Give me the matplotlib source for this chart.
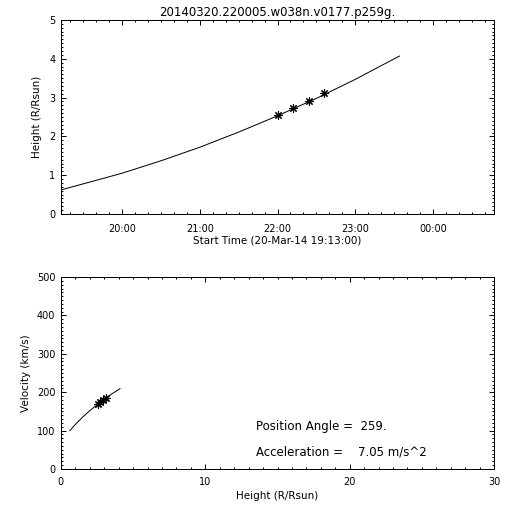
import matplotlib
matplotlib.use("Agg")
import matplotlib.pyplot as plt
from matplotlib.ticker import MultipleLocator, FuncFormatter

# ---- data ----
title = "20140320.220005.w038n.v0177.p259g."
start_label = "Start Time (20-Mar-14 19:13:00)"

# measured points (time HH:MM:SS, height R/Rsun)
obs_times = ["22:00:05", "22:12:00", "22:24:00", "22:36:00"]
obs_heights = [2.55, 2.73, 2.92, 3.12]
obs_velocities = [168, 174, 180, 185]

# fitted height-time curve
fit_times = ["19:13:00", "20:00:00", "20:30:00", "21:00:00", "21:30:00",
             "22:00:00", "22:30:00", "23:00:00", "23:34:00"]
fit_heights = [0.62, 1.05, 1.37, 1.72, 2.11, 2.53, 2.98, 3.47, 4.07]

# fitted velocity-height curve
vfit_heights = [0.62, 1.0, 1.5, 2.0, 2.5, 3.0, 3.5, 4.09]
vfit_velocities = [100, 116, 135, 152, 167, 181, 195, 209]

position_angle = "259."
acceleration = "7.05"

time_range = ["19:13:00", "24:47:00"]


def to_hours(s):
    h, m, sec = (float(p) for p in s.split(":"))
    return h + m / 60.0 + sec / 3600.0


obs_t = [to_hours(s) for s in obs_times]
fit_t = [to_hours(s) for s in fit_times]
tmin, tmax = (to_hours(s) for s in time_range)

plt.rcParams['font.family'] = ['DejaVu Sans']

fig = plt.figure(figsize=(5.12, 5.12), dpi=100)
ax1 = fig.add_axes([0.119, 0.582, 0.846, 0.379])
ax2 = fig.add_axes([0.119, 0.084, 0.846, 0.375])

lw = 0.72
star = (8, 2, 0)


def style(ax, xpad):
    for sp in ax.spines.values():
        sp.set_linewidth(lw)
    ax.tick_params(which='both', direction='in', top=True, right=True,
                   labeltop=False, labelright=False, width=0.7,
                   labelsize=7, colors='black')
    ax.tick_params(which='major', length=3.4)
    ax.tick_params(axis='x', which='major', pad=xpad)
    ax.tick_params(axis='y', which='major', pad=4)
    ax.tick_params(which='minor', length=1.7)


# top panel
ax1.plot(fit_t, fit_heights, color='black', lw=lw)
ax1.plot(obs_t, obs_heights, linestyle='none', marker=star, ms=6,
         mew=0.8, color='black')
ax1.set_xlim(tmin, tmax)
ax1.set_ylim(0, 5)
ax1.xaxis.set_major_locator(MultipleLocator(1))
ax1.xaxis.set_minor_locator(MultipleLocator(1 / 6))
ax1.yaxis.set_major_locator(MultipleLocator(1))
ax1.yaxis.set_minor_locator(MultipleLocator(0.1))
ax1.xaxis.set_major_formatter(
    FuncFormatter(lambda v, p: "%02d:%02d" % (int(round(v * 60)) // 60 % 24,
                                              int(round(v * 60)) % 60)))
style(ax1, 7.5)
ax1.set_xlabel(start_label, fontsize=7.5, labelpad=1)
ax1.set_ylabel("Height (R/Rsun)", fontsize=7.5, labelpad=5)
ax1.set_title(title, fontsize=8.5, pad=3)

# bottom panel
ax2.plot(vfit_heights, vfit_velocities, color='black', lw=lw)
ax2.plot(obs_heights, obs_velocities, linestyle='none', marker=star, ms=6,
         mew=0.8, color='black')
ax2.set_xlim(0, 30)
ax2.set_ylim(0, 500)
ax2.xaxis.set_major_locator(MultipleLocator(10))
ax2.xaxis.set_minor_locator(MultipleLocator(1))
ax2.yaxis.set_major_locator(MultipleLocator(100))
ax2.yaxis.set_minor_locator(MultipleLocator(10))
style(ax2, 5.5)
ax2.set_xlabel("Height (R/Rsun)", fontsize=7.5, labelpad=3)
ax2.set_ylabel("Velocity (km/s)", fontsize=7.5, labelpad=4)
ax2.text(0.45, 0.22, "Position Angle =  " + position_angle,
         transform=ax2.transAxes, fontsize=8.5, va='center', ha='left')
ax2.text(0.45, 0.09, "Acceleration =    " + acceleration + " m/s^2",
         transform=ax2.transAxes, fontsize=8.5, va='center', ha='left')

fig.savefig("out.png", dpi=100, facecolor='white')
